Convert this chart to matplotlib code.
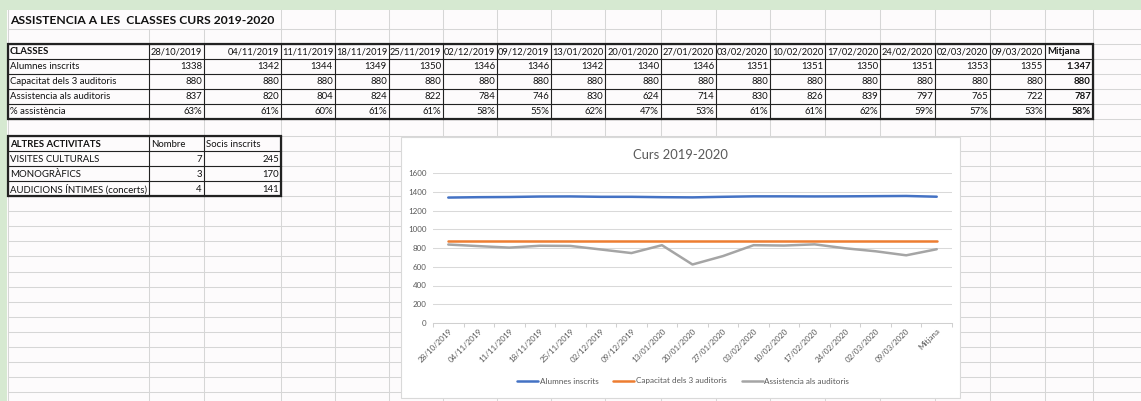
import matplotlib
matplotlib.use('Agg')
import matplotlib.pyplot as plt
from matplotlib.patches import Rectangle

plt.rcParams['font.family'] = ['Lato', 'DejaVu Sans']
CELL_FONT = ['Lato', 'DejaVu Sans']
FS, FS_DATE, FS_TITLE = 6.9, 6.65, 8.7

# ---------------- data ----------------
sheet_title = "ASSISTENCIA A LES  CLASSES CURS 2019-2020"
header_label = "CLASSES"
dates = ["28/10/2019", "04/11/2019", "11/11/2019", "18/11/2019", "25/11/2019",
         "02/12/2019", "09/12/2019", "13/01/2020", "20/01/2020", "27/01/2020",
         "03/02/2020", "10/02/2020", "17/02/2020", "24/02/2020", "02/03/2020",
         "09/03/2020"]
mean_label = "Mitjana"
row_labels = ["Alumnes inscrits", "Capacitat dels 3 auditoris",
              "Assistencia als auditoris", "% assistència"]
alumnes = [1338, 1342, 1344, 1349, 1350, 1346, 1346, 1342, 1340, 1346,
           1351, 1351, 1350, 1351, 1353, 1355]
capacitat = [880, 880, 880, 880, 880, 880, 880, 880, 880, 880,
             880, 880, 880, 880, 880, 880]
assistencia = [837, 820, 804, 824, 822, 784, 746, 830, 624, 714,
               830, 826, 839, 797, 765, 722]
percent = ["63%", "61%", "60%", "61%", "61%", "58%", "55%", "62%", "47%",
           "53%", "61%", "61%", "62%", "59%", "57%", "53%"]
mean_text = ["1.347", "880", "787", "58%"]
mean_alumnes = 1347
mean_capacitat = 880
mean_assistencia = 787

other_header = ["ALTRES ACTIVITATS", "Nombre", "Socis inscrits"]
activitats = ["VISITES CULTURALS", "MONOGRÀFICS", "AUDICIONS ÍNTIMES (concerts)"]
nombre = [7, 3, 4]
socis = [245, 170, 141]

chart_title = "Curs 2019-2020"
y_ticks = [0, 200, 400, 600, 800, 1000, 1200, 1400, 1600]

# ---------------- layout ----------------
W, H = 1141, 401
fig = plt.figure(figsize=(W / 100, H / 100), dpi=100)
bg = fig.add_axes([0, 0, 1, 1])
bg.set_xlim(0, W)
bg.set_ylim(H, 0)
bg.axis('off')

bg.add_patch(Rectangle((0, 0), W, H, facecolor='#fdfbfc', edgecolor='none', zorder=0))
green = '#d6e9d1'
bg.add_patch(Rectangle((0, 0), W, 10, facecolor=green, edgecolor='none', zorder=0.5))
bg.add_patch(Rectangle((0, 0), 7, H, facecolor=green, edgecolor='none', zorder=0.5))

cols = [8, 149, 204, 281, 335, 389, 443, 497, 551, 605, 661, 716, 770, 825,
        880, 935, 990, 1045, 1093, 1141]
rows = [10, 29, 43.5, 58.5, 73.5, 88.5, 103.5, 118.5, 136, 151, 166, 181, 196]
rows += [196 + 15.1 * k for k in range(1, 15)]

grid_c = '#d6d6d6'
for y in rows[1:]:
    bg.plot([8, W], [y, y], color=grid_c, lw=0.75, zorder=1)
for x in cols:
    bg.plot([x, x], [rows[1], H], color=grid_c, lw=0.75, zorder=1)
    if x not in (149, 204):
        bg.plot([x, x], [rows[0], rows[1]], color=grid_c, lw=0.75, zorder=1)

PAD = 2.0

def ctext(x, yc, s, ha='left', bold=False, size=None):
    bg.text(x, yc + 0.8, s, ha=ha, va='center', fontsize=size or FS, family=CELL_FONT,
            fontweight='bold' if bold else 'normal', color='#111111', zorder=4)

# sheet title
bg.text(10, (rows[0] + rows[1]) / 2 + 1, sheet_title, ha='left', va='center',
        fontsize=FS_TITLE, fontweight='bold', family=CELL_FONT, color='#111111', zorder=4)

# ---- main table ----
t_top, t_bot = rows[2], rows[7]
t_left, t_right = cols[0], cols[18]
for y in rows[2:8]:
    bg.plot([t_left, t_right], [y, y], color='#222222', lw=0.8, zorder=3)
for x in cols[:19]:
    bg.plot([x, x], [t_top, t_bot], color='#222222', lw=0.8, zorder=3)
bg.add_patch(Rectangle((t_left, t_top), t_right - t_left, t_bot - t_top,
                       facecolor='none', edgecolor='#222222', lw=1.6, zorder=3.5))

yc = (rows[2] + rows[3]) / 2
ctext(cols[0] + 2, yc, header_label, bold=True)
for i, d in enumerate(dates):
    ctext(cols[i + 2] - PAD, yc, d, ha='right', size=FS_DATE)
ctext(cols[17] + 2, yc, mean_label, bold=True)

series_text = [[str(v) for v in alumnes], [str(v) for v in capacitat],
               [str(v) for v in assistencia], percent]
for r, lab in enumerate(row_labels):
    yc = (rows[3 + r] + rows[4 + r]) / 2
    ctext(cols[0] + 2, yc, lab)
    for i, s in enumerate(series_text[r]):
        ctext(cols[i + 2] - PAD, yc, s, ha='right')
    ctext(cols[18] - PAD, yc, mean_text[r], ha='right', bold=True)

# ---- other activities table ----
o_top, o_bot = rows[8], rows[12]
o_cols = cols[:4]
for y in rows[8:13]:
    bg.plot([o_cols[0], o_cols[-1]], [y, y], color='#222222', lw=0.8, zorder=3)
for x in o_cols:
    bg.plot([x, x], [o_top, o_bot], color='#222222', lw=0.8, zorder=3)
bg.add_patch(Rectangle((o_cols[0], o_top), o_cols[-1] - o_cols[0], o_bot - o_top,
                       facecolor='none', edgecolor='#222222', lw=1.6, zorder=3.5))
yc = (rows[8] + rows[9]) / 2
ctext(cols[0] + 2, yc, other_header[0], bold=True)
ctext(cols[1] + 2, yc, other_header[1])
ctext(cols[2] + 2, yc, other_header[2])
for r, lab in enumerate(activitats):
    yc = (rows[9 + r] + rows[10 + r]) / 2
    ctext(cols[0] + 2, yc, lab)
    ctext(cols[2] - PAD, yc, str(nombre[r]), ha='right')
    ctext(cols[3] - PAD, yc, str(socis[r]), ha='right')

# ---- chart box ----
bx0, by0, bx1, by1 = 401, 137, 960, 398
bg.add_patch(Rectangle((bx0, by0), bx1 - bx0, by1 - by0, facecolor='white',
                       edgecolor='#d9d9d9', lw=0.8, zorder=5))

px0, px1, py_top, py_bot = 433, 952, 173, 323
ax = fig.add_axes([px0 / W, 1 - py_bot / H, (px1 - px0) / W, (py_bot - py_top) / H])
ax.set_facecolor('none')

cats = dates + [mean_label]
xs = list(range(len(cats)))
s_al = alumnes + [mean_alumnes]
s_ca = capacitat + [mean_capacitat]
s_as = assistencia + [mean_assistencia]
lkw = dict(lw=1.8, solid_capstyle='round', solid_joinstyle='round')
ax.plot(xs, s_al, color='#4472C4', label=row_labels[0], **lkw)
ax.plot(xs, s_ca, color='#ED7D31', label=row_labels[1], **lkw)
ax.plot(xs, s_as, color='#A5A5A5', label=row_labels[2], **lkw)

ax.set_xlim(-0.5, len(cats) - 0.5)
ax.set_ylim(0, 1600)
ax.set_yticks(y_ticks)
ax.set_yticklabels([str(v) for v in y_ticks])
ax.grid(axis='y', color='#d9d9d9', lw=0.75)
ax.set_axisbelow(True)
for side in ['top', 'right', 'left']:
    ax.spines[side].set_visible(False)
ax.spines['bottom'].set_color('#d0d0d0')
ax.spines['bottom'].set_linewidth(0.75)
ax.tick_params(axis='y', length=0, pad=4.5, labelsize=5.8, labelcolor='#595959')
ax.set_xticks(xs)
ax.set_xticklabels(cats, rotation=45, ha='right', rotation_mode='anchor')
ax.tick_params(axis='x', which='major', length=0, pad=3, labelsize=5.8, labelcolor='#595959')
ax.set_xticks([k - 0.5 for k in range(len(cats) + 1)], minor=True)
ax.tick_params(axis='x', which='minor', length=3, color='#d0d0d0', width=0.75)

fig.text(680 / W, 1 - 155 / H, chart_title, ha='center', va='center',
         fontsize=9.4, color='#595959')
fig.legend(loc='center', bbox_to_anchor=(683 / W, 1 - 381 / H), ncol=3,
           frameon=False, fontsize=5.9, labelcolor='#595959', handlelength=2.6,
           handletextpad=0.2, columnspacing=1.8)

fig.savefig('out.png', dpi=100)
